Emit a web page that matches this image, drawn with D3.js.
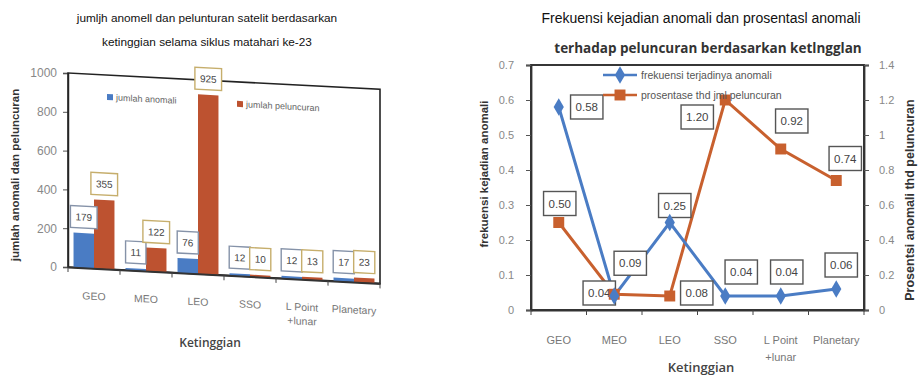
<!DOCTYPE html>
<html lang="en">
<head>
<meta charset="UTF-8">
<title>Anomali satelit berdasarkan ketinggian</title>
<script src="https://cdnjs.cloudflare.com/ajax/libs/d3/7.8.5/d3.min.js"></script>
<style>
    body { margin: 0; background: #fff; }
    svg text { font-family: "Liberation Sans", Arial, sans-serif; }
    .tick text { fill: #777; }
</style>
</head>
<body>
<div id="chart"></div>
<script>
    // categories (ketinggian)
    const categories = ['GEO', 'MEO', 'LEO', 'SSO', 'L Point +lunar', 'Planetary'];
    // left chart: counts
    const jumlahAnomali = [179, 11, 76, 12, 12, 17];
    const jumlahPeluncuran = [355, 122, 925, 10, 13, 23];
    const countTicks = [0, 200, 400, 600, 800, 1000];
    // right chart: ratios
    const frekuensi = [0.58, 0.04, 0.25, 0.04, 0.04, 0.06];
    const prosentase = [0.50, 0.09, 0.08, 1.20, 0.92, 0.74];
    const frekTicks = [0, 0.1, 0.2, 0.3, 0.4, 0.5, 0.6, 0.7];
    const prosTicks = [0, 0.2, 0.4, 0.6, 0.8, 1, 1.2, 1.4];

    // where the value boxes sit relative to their point (layout only)
    const frekLabelOffset = [[28, 0], [-15, -3], [5, -17], [16, -24], [6, -24], [5, -24]];
    const prosLabelOffset = [[1, -19], [16, -31], [27, -3], [-28, 17], [11, -28], [9, -22]];

    const blue = '#4a7cc4';
    const red = '#bd5230';
    const orange = '#c8602e';

    const svg = d3.select('#chart').append('svg')
        .attr('width', 923)
        .attr('height', 377);

    // draws a boxed value label centered on (x, y)
    function valueBox(g, x, y, text, opts) {
        const b = g.append('g').attr('transform', `translate(${x},${y})`);
        const rect = b.append('rect');
        const t = b.append('text')
            .attr('text-anchor', 'middle')
            .attr('dy', '0.36em')
            .style('font-size', opts.size + 'px')
            .style('fill', '#444')
            .text(text);
        const w = t.node().getComputedTextLength() + opts.pad * 2;
        rect.attr('x', -w / 2).attr('y', -opts.h / 2)
            .attr('width', w).attr('height', opts.h)
            .attr('fill', '#fff')
            .attr('stroke', opts.stroke)
            .attr('stroke-width', 1.4);
    }

    function splitLabels(sel, lineGap) {
        sel.selectAll('text').each(function (d) {
            const parts = d.split(' +');
            if (parts.length > 1) {
                const t = d3.select(this).text(null);
                t.append('tspan').attr('x', 0).text(parts[0]);
                t.append('tspan').attr('x', 0).attr('dy', lineGap).text('+' + parts[1]);
            }
        });
    }

    // ---------------- left chart: bars ----------------
    const L = { x: 68, y: 73, w: 312, h: 194 };

    svg.append('text').attr('x', 207).attr('y', 22).attr('text-anchor', 'middle')
        .style('font-size', '11.8px').style('fill', '#111')
        .text('jumljh anomell dan pelunturan satelit berdasarkan');
    svg.append('text').attr('x', 207).attr('y', 46).attr('text-anchor', 'middle')
        .style('font-size', '11.8px').style('fill', '#111')
        .text('ketinggian selama siklus matahari ke-23');

    const xL = d3.scaleBand().domain(categories).range([0, L.w]);
    const xSub = d3.scaleBand().domain(['a', 'p']).range([0, xL.bandwidth()])
        .paddingInner(0).paddingOuter(0.27);
    const yL = d3.scaleLinear().domain([0, 1000]).range([L.h, 0]);

    // y axis (not skewed)
    const yAxisL = svg.append('g')
        .attr('transform', `translate(${L.x},${L.y})`)
        .call(d3.axisLeft(yL).tickValues(countTicks).tickSize(5).tickPadding(6).tickFormat(d3.format('d')));
    yAxisL.select('.domain').attr('stroke', '#333').attr('stroke-width', 1.5);
    yAxisL.selectAll('.tick line').attr('stroke', '#555');
    yAxisL.selectAll('.tick text').style('font-size', '12px').style('fill', '#888');

    // the scanned plot is slanted, so the plot body is skewed
    const pL = svg.append('g')
        .attr('transform', `translate(${L.x},${L.y}) skewY(3)`);

    pL.append('rect')
        .attr('width', L.w).attr('height', L.h)
        .attr('fill', 'none').attr('stroke', '#222').attr('stroke-width', 1.6);

    const groups = pL.selectAll('.cat').data(categories).enter().append('g')
        .attr('transform', d => `translate(${xL(d)},0)`);

    groups.append('rect')
        .attr('x', xSub('a'))
        .attr('y', (d, i) => yL(jumlahAnomali[i]))
        .attr('width', xSub.bandwidth())
        .attr('height', (d, i) => L.h - yL(jumlahAnomali[i]))
        .attr('fill', blue);
    groups.append('rect')
        .attr('x', xSub('p'))
        .attr('y', (d, i) => yL(jumlahPeluncuran[i]))
        .attr('width', xSub.bandwidth())
        .attr('height', (d, i) => L.h - yL(jumlahPeluncuran[i]))
        .attr('fill', red);

    // x axis
    const xAxisL = pL.append('g')
        .attr('transform', `translate(0,${L.h})`)
        .call(d3.axisBottom(xL).tickSize(0).tickPadding(24));
    xAxisL.select('.domain').attr('stroke', '#333').attr('stroke-width', 2);
    xAxisL.selectAll('.tick text').style('font-size', '10.5px').style('fill', '#777');
    splitLabels(xAxisL, 14);
    xAxisL.selectAll('.edge').data(categories.concat(['end'])).enter().append('line')
        .attr('x1', (d, i) => i < categories.length ? xL(d) : L.w)
        .attr('x2', (d, i) => i < categories.length ? xL(d) : L.w)
        .attr('y1', 0).attr('y2', 5)
        .attr('stroke', '#444');

    // value boxes
    categories.forEach((c, i) => {
        valueBox(pL, xL(c) + xSub('a') + xSub.bandwidth() / 2, yL(jumlahAnomali[i]) - 16,
            jumlahAnomali[i], { size: 10, pad: 5, h: 22, stroke: '#8592a8' });
        valueBox(pL, xL(c) + xSub('p') + xSub.bandwidth() / 2, yL(jumlahPeluncuran[i]) - 16,
            jumlahPeluncuran[i], { size: 10, pad: 5, h: 22, stroke: '#c6ae6c' });
    });

    // legend
    const legL = [['jumlah anomali', blue, 39], ['jumlah peluncuran', red, 169]];
    legL.forEach(([name, col, lx]) => {
        pL.append('rect').attr('x', lx).attr('y', 19).attr('width', 6).attr('height', 6).attr('fill', col);
        pL.append('text').attr('x', lx + 9).attr('y', 25)
            .style('font-size', '9px').style('fill', '#666').text(name);
    });

    svg.append('text')
        .attr('transform', 'translate(19,175) rotate(-90)')
        .attr('text-anchor', 'middle')
        .style('font-size', '11.5px').style('font-weight', 'bold').style('fill', '#333')
        .text('jumlah anomali dan peluncuran');

    svg.append('text').attr('x', 210).attr('y', 347).attr('text-anchor', 'middle')
        .style('font-family', '"Open Sans", sans-serif')
        .style('font-size', '12px').style('font-weight', 600).style('fill', '#444')
        .text('Ketinggian');

    // ---------------- right chart: lines ----------------
    const R = { x0: 531, x1: 864, y0: 65, y1: 310 };

    svg.append('text').attr('x', 701).attr('y', 23).attr('text-anchor', 'middle')
        .style('font-size', '14px').style('fill', '#111')
        .text('Frekuensi kejadian anomali dan prosentasl anomali');
    svg.append('text').attr('x', 708).attr('y', 53).attr('text-anchor', 'middle')
        .style('font-family', '"Open Sans", sans-serif')
        .style('font-size', '13.5px').style('font-weight', 700).style('fill', '#333')
        .text('terhadap peluncuran berdasarkan ketlngglan');

    const xR = d3.scaleBand().domain(categories).range([R.x0, R.x1]);
    const yF = d3.scaleLinear().domain([0, 0.7]).range([R.y1, R.y0]);
    const yP = d3.scaleLinear().domain([0, 1.4]).range([R.y1, R.y0]);
    const cx = i => xR(categories[i]) + xR.bandwidth() / 2;

    svg.append('rect')
        .attr('x', R.x0).attr('y', R.y0)
        .attr('width', R.x1 - R.x0).attr('height', R.y1 - R.y0)
        .attr('fill', 'none').attr('stroke', '#222').attr('stroke-width', 1.8);

    const axF = svg.append('g').attr('transform', `translate(${R.x0},0)`)
        .call(d3.axisLeft(yF).tickValues(frekTicks).tickSize(5).tickPadding(12).tickFormat(d => String(d)));
    const axP = svg.append('g').attr('transform', `translate(${R.x1},0)`)
        .call(d3.axisRight(yP).tickValues(prosTicks).tickSize(5).tickPadding(10).tickFormat(d => String(d)));
    [axF, axP].forEach(a => {
        a.select('.domain').attr('stroke', '#333').attr('stroke-width', 1.8);
        a.selectAll('.tick line').attr('stroke', '#555');
        a.selectAll('.tick text').style('font-size', '11px').style('fill', '#888');
    });

    const axX = svg.append('g').attr('transform', `translate(0,${R.y1})`)
        .call(d3.axisBottom(xR).tickSize(0).tickPadding(26));
    axX.select('.domain').attr('stroke', '#333').attr('stroke-width', 2.2);
    axX.selectAll('.tick text').style('font-size', '11px').style('fill', '#777');
    splitLabels(axX, 17);
    axX.selectAll('.edge').data(categories.concat(['end'])).enter().append('line')
        .attr('x1', (d, i) => i < categories.length ? xR(d) : R.x1)
        .attr('x2', (d, i) => i < categories.length ? xR(d) : R.x1)
        .attr('y1', 0).attr('y2', 5)
        .attr('stroke', '#444');

    const lineF = d3.line().x((d, i) => cx(i)).y(d => yF(d));
    const lineP = d3.line().x((d, i) => cx(i)).y(d => yP(d));

    svg.append('path').datum(prosentase).attr('d', lineP)
        .attr('fill', 'none').attr('stroke', orange).attr('stroke-width', 3);
    svg.append('path').datum(frekuensi).attr('d', lineF)
        .attr('fill', 'none').attr('stroke', blue).attr('stroke-width', 3);

    const boxR = { size: 11.5, pad: 5, h: 24, stroke: '#555' };
    frekuensi.forEach((v, i) => {
        valueBox(svg, cx(i) + frekLabelOffset[i][0], yF(v) + frekLabelOffset[i][1], v.toFixed(2), boxR);
    });
    prosentase.forEach((v, i) => {
        valueBox(svg, cx(i) + prosLabelOffset[i][0], yP(v) + prosLabelOffset[i][1], v.toFixed(2), boxR);
    });

    const diamond = d3.symbol(d3.symbolDiamond, 90);
    const square = d3.symbol(d3.symbolSquare, 120);
    svg.selectAll('.mp').data(prosentase).enter().append('path')
        .attr('d', square)
        .attr('transform', (d, i) => `translate(${cx(i)},${yP(d)})`)
        .attr('fill', orange);
    svg.selectAll('.mf').data(frekuensi).enter().append('path')
        .attr('d', diamond)
        .attr('transform', (d, i) => `translate(${cx(i)},${yF(d)})`)
        .attr('fill', blue);

    // legend
    const legR = [['frekuensi terjadinya anomali', blue, diamond, 75],
                  ['prosentase thd jml peluncuran', orange, square, 95]];
    legR.forEach(([name, col, sym, ly]) => {
        svg.append('line').attr('x1', 603).attr('x2', 637).attr('y1', ly).attr('y2', ly)
            .attr('stroke', col).attr('stroke-width', 2.5);
        svg.append('path').attr('d', sym).attr('transform', `translate(620,${ly})`).attr('fill', col);
        svg.append('text').attr('x', 641).attr('y', ly + 4)
            .style('font-size', '10.5px').style('fill', '#555').text(name);
    });

    svg.append('text')
        .attr('transform', 'translate(488,174) rotate(-90)')
        .attr('text-anchor', 'middle')
        .style('font-size', '11.5px').style('font-weight', 'bold').style('fill', '#333')
        .text('frekuensi kejadian anomali');
    svg.append('text')
        .attr('transform', 'translate(914,200) rotate(-90)')
        .attr('text-anchor', 'middle')
        .style('font-size', '12.5px').style('font-weight', 'bold').style('fill', '#333')
        .text('Prosentsi anomali thd  peluncuran');

    svg.append('text').attr('x', 701).attr('y', 372).attr('text-anchor', 'middle')
        .style('font-family', '"Open Sans", sans-serif')
        .style('font-size', '13px').style('font-weight', 600).style('fill', '#444')
        .text('Ketinggian');
</script>
</body>
</html>
